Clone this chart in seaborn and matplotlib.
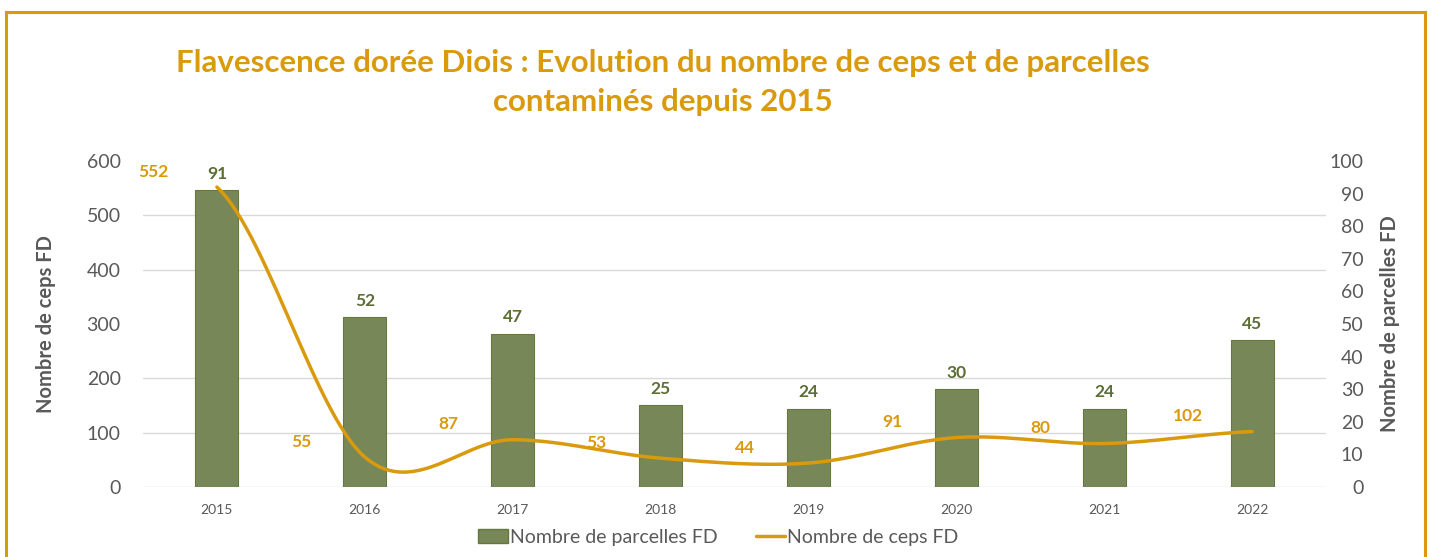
import numpy as np
import pandas as pd
import matplotlib
matplotlib.use("Agg")
import matplotlib.pyplot as plt
import seaborn as sns
from matplotlib.patches import Rectangle
from matplotlib.lines import Line2D
from matplotlib.patches import Patch

# data
years = ["2015", "2016", "2017", "2018", "2019", "2020", "2021", "2022"]
parcelles = [91, 52, 47, 25, 24, 30, 24, 45]
ceps = [552, 55, 87, 53, 44, 91, 80, 102]

gold = "#D99A0E"
green = "#778757"
green_dark = "#5B6E35"
grey = "#595959"

sns.set_theme(style="white")
plt.rcParams['font.family'] = ['Lato', 'DejaVu Sans']

df = pd.DataFrame({"annee": years, "parcelles": parcelles, "ceps": ceps})


def smooth(y, n=30):
    # Catmull-Rom curve through the points (like Excel's smoothed line)
    y = np.asarray(y, float)
    p = np.concatenate([[y[0]], y, [y[-1]]])
    xs, ys = [], []
    for i in range(len(y) - 1):
        t = np.linspace(0, 1, n, endpoint=False)
        m0 = (p[i + 2] - p[i]) / 2
        m1 = (p[i + 3] - p[i + 1]) / 2
        h00 = 2 * t**3 - 3 * t**2 + 1
        h10 = t**3 - 2 * t**2 + t
        h01 = -2 * t**3 + 3 * t**2
        h11 = t**3 - t**2
        xs.append(i + t)
        ys.append(h00 * y[i] + h10 * m0 + h01 * y[i + 1] + h11 * m1)
    xs.append([len(y) - 1])
    ys.append([y[-1]])
    return np.concatenate(xs), np.concatenate(ys)


fig, ax = plt.subplots(figsize=(14.34, 5.57), dpi=100)
fig.subplots_adjust(left=0.0997, right=0.9247, top=0.711, bottom=0.1257)
ax2 = ax.twinx()

# bars on the right axis
sns.barplot(data=df, x="annee", y="parcelles", ax=ax2, color=green,
            width=0.29, saturation=1, edgecolor="#66783F", linewidth=0.8)
ax2.set_ylim(0, 100)
ax2.set_yticks(np.arange(0, 101, 10))
ax2.set_yticks(np.linspace(0, 100, 7), minor=True)
ax2.grid(which="minor", color="#D9D9D9", linewidth=1)
ax2.grid(which="major", visible=False)
ax2.tick_params(which="minor", length=0)
ax2.tick_params(axis="y", length=0, labelsize=14, labelcolor=grey, pad=27)
for lab in ax2.get_yticklabels():
    lab.set_horizontalalignment("right")
ax2.set_ylabel("Nombre de parcelles FD", fontsize=14.5, fontweight="bold",
               color=grey, labelpad=12)
for i, v in enumerate(parcelles):
    ax2.annotate(str(v), (i, v), xytext=(0, 12), textcoords="offset points",
                 ha="center", va="center", fontsize=12.5, fontweight="bold",
                 color=green_dark)

# line on the left axis, drawn above the bars
ax.set_zorder(ax2.get_zorder() + 1)
ax.patch.set_visible(False)
sx, sy = smooth(ceps)
ax.plot(sx, sy, color=gold, linewidth=2.5)
ax.set_ylim(0, 600)
ax.set_xlim(-0.5, len(years) - 0.5)
ax.set_yticks(np.arange(0, 601, 100))
ax.tick_params(axis="y", length=0, labelsize=14, labelcolor=grey, pad=16)
ax.set_ylabel("Nombre de ceps FD", fontsize=14.5, fontweight="bold",
              color=grey, labelpad=22)
ax.set_xticks(range(len(years)))
ax.set_xticklabels(years)
ax.tick_params(axis="x", length=0, labelsize=10, labelcolor=grey, pad=12)
for i, v in enumerate(ceps):
    ax.annotate(str(v), (i, v), xytext=(-46, 11), textcoords="offset points",
                ha="center", va="center", fontsize=12.5, fontweight="bold",
                color=gold)

ax2.set_xlabel("")
ax.set_xlabel("")
for a in (ax, ax2):
    for s in a.spines.values():
        s.set_visible(False)
ax2.axhline(0, color="#D9D9D9", linewidth=1, zorder=0)

fig.text(0.462, 0.852, "Flavescence dorée Diois : Evolution du nombre de ceps et de parcelles\ncontaminés depuis 2015",
         ha="center", va="center", fontsize=22.5, fontweight="bold", color=gold,
         linespacing=1.5)

handles = [Patch(facecolor=green, edgecolor="#66783F"),
           Line2D([0], [0], color=gold, linewidth=2.5)]
fig.legend(handles, ["Nombre de parcelles FD", "Nombre de ceps FD"],
           loc="center", bbox_to_anchor=(0.501, 0.035), ncol=2, frameon=False,
           fontsize=14, labelcolor=grey, handlelength=1.5, handletextpad=0.1,
           columnspacing=2.0)

fig.patches.append(Rectangle((6 / 1434, -0.05), 1419 / 1434, 1.05 - 12 / 557,
                             transform=fig.transFigure, fill=False,
                             edgecolor=gold, linewidth=2.2))

fig.savefig("out.png", dpi=100)
